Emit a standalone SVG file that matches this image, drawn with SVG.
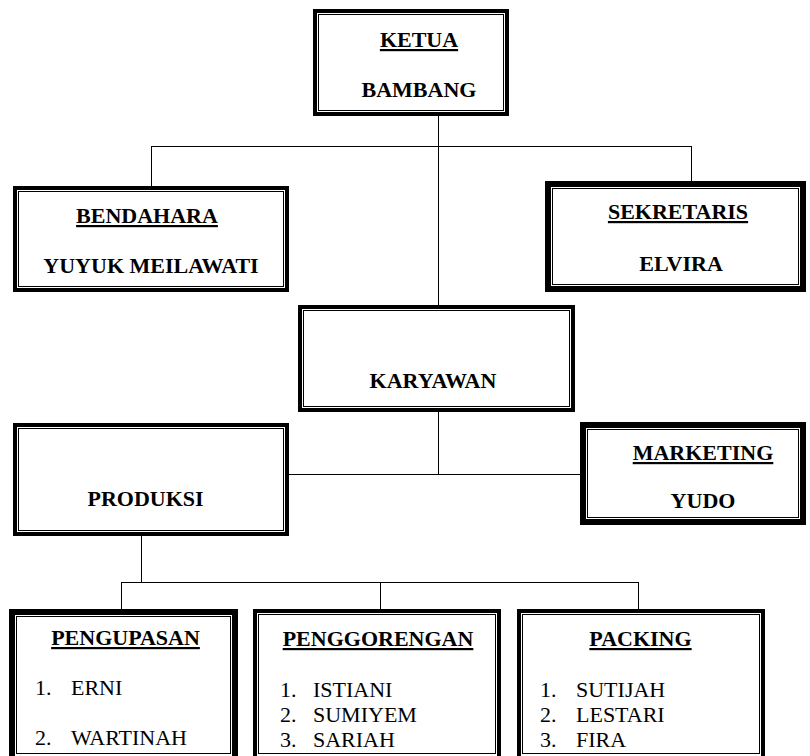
<svg xmlns="http://www.w3.org/2000/svg" width="810" height="756" viewBox="0 0 810 756">
<style>
.thick4{fill:#fff;stroke:#000;stroke-width:4}
.thick6{fill:#fff;stroke:#000;stroke-width:6}
.inner{fill:none;stroke:#000;stroke-width:1}
.b{font-family:"Liberation Serif","Times New Roman",serif;font-weight:bold;font-size:22px;fill:#000}
.u{text-decoration:underline}
.r{font-family:"Liberation Serif","Times New Roman",serif;font-size:22px;fill:#000}
.c{text-anchor:middle}
.conn line{stroke:#000;stroke-width:1}
</style>
<rect width="810" height="756" fill="#fff"/>
<g class="conn">
<line x1="438.5" y1="116" x2="438.5" y2="305"/>
<line x1="151" y1="146.5" x2="692" y2="146.5"/>
<line x1="151.5" y1="146" x2="151.5" y2="186"/>
<line x1="691.5" y1="146" x2="691.5" y2="182"/>
<line x1="438.5" y1="412" x2="438.5" y2="475"/>
<line x1="289" y1="474.5" x2="580" y2="474.5"/>
<line x1="141.5" y1="536" x2="141.5" y2="583"/>
<line x1="121" y1="582.5" x2="639" y2="582.5"/>
<line x1="121.5" y1="582" x2="121.5" y2="609"/>
<line x1="380.5" y1="582" x2="380.5" y2="609"/>
<line x1="638.5" y1="582" x2="638.5" y2="609"/>
</g>
<g id="ketua">
<rect class="thick4" x="315" y="11" width="192" height="103"/>
<rect class="inner" x="318.5" y="14.5" width="185" height="96"/>
<text class="b u c" x="419" y="47">KETUA</text>
<text class="b c" x="419" y="97">BAMBANG</text>
</g>
<g id="bendahara">
<rect class="thick4" x="15" y="188" width="272" height="102"/>
<rect class="inner" x="18.5" y="191.5" width="265" height="95"/>
<text class="b u c" x="147" y="223">BENDAHARA</text>
<text class="b c" x="151" y="273">YUYUK MEILAWATI</text>
</g>
<g id="sekretaris">
<rect class="thick6" x="548" y="184" width="255" height="105"/>
<rect class="inner" x="552.5" y="188.5" width="246" height="96"/>
<text class="b u c" x="678" y="219">SEKRETARIS</text>
<text class="b c" x="681" y="271">ELVIRA</text>
</g>
<g id="karyawan">
<rect class="thick4" x="300" y="307" width="273" height="103"/>
<rect class="inner" x="303.5" y="310.5" width="266" height="96"/>
<text class="b c" x="433" y="388">KARYAWAN</text>
</g>
<g id="produksi">
<rect class="thick4" x="15" y="425" width="272" height="109"/>
<rect class="inner" x="18.5" y="428.5" width="265" height="102"/>
<text class="b c" x="145.5" y="506">PRODUKSI</text>
</g>
<g id="marketing">
<rect class="thick6" x="583" y="425" width="220" height="97"/>
<rect class="inner" x="587.5" y="429.5" width="211" height="88"/>
<text class="b u c" x="703" y="460">MARKETING</text>
<text class="b c" x="703" y="508">YUDO</text>
</g>
<g id="pengupasan">
<rect class="thick6" x="12" y="612" width="223" height="147"/>
<rect class="inner" x="16.5" y="616.5" width="214" height="137"/>
<text class="b u c" x="125.5" y="645">PENGUPASAN</text>
<text class="r" x="35" y="695">1.</text>
<text class="r" x="71" y="695">ERNI</text>
<text class="r" x="35" y="745">2.</text>
<text class="r" x="71" y="745">WARTINAH</text>
</g>
<g id="penggorengan">
<rect class="thick4" x="255" y="611" width="244" height="147"/>
<rect class="inner" x="258.5" y="614.5" width="237" height="139"/>
<text class="b u c" x="378" y="646">PENGGORENGAN</text>
<text class="r" x="280" y="697">1.</text>
<text class="r" x="313" y="697">ISTIANI</text>
<text class="r" x="280" y="722">2.</text>
<text class="r" x="313" y="722">SUMIYEM</text>
<text class="r" x="280" y="747">3.</text>
<text class="r" x="313" y="747">SARIAH</text>
</g>
<g id="packing">
<rect class="thick4" x="519" y="611" width="244" height="147"/>
<rect class="inner" x="522.5" y="614.5" width="237" height="139"/>
<text class="b u c" x="640.5" y="646">PACKING</text>
<text class="r" x="540" y="697">1.</text>
<text class="r" x="576" y="697">SUTIJAH</text>
<text class="r" x="540" y="722">2.</text>
<text class="r" x="576" y="722">LESTARI</text>
<text class="r" x="540" y="747">3.</text>
<text class="r" x="576" y="747">FIRA</text>
</g>
</svg>
